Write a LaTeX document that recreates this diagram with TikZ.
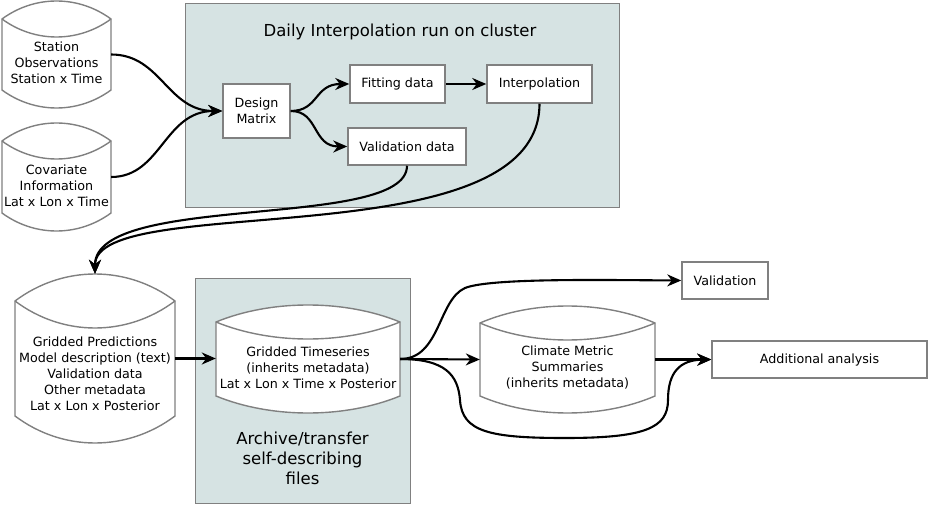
\documentclass[tikz,border=0pt]{standalone}
\usepackage{fontspec}
\setmainfont{DejaVu Sans}
\usetikzlibrary{arrows.meta,calc}
\definecolor{boxfill}{RGB}{214,227,227}
\definecolor{edgegray}{RGB}{128,128,128}
\tikzset{
  proc/.style={draw=edgegray,line width=1.5pt,fill=white,inner sep=0pt,align=center,font=\fontsize{12.7}{16}\selectfont},
  tapeline/.style={draw=edgegray,line width=1.4pt,fill=white},
  tapetext/.style={align=center,inner sep=0pt,font=\fontsize{12.7}{16}\selectfont},
  groupbox/.style={draw=edgegray,line width=0.8pt,fill=boxfill,inner sep=0pt},
  grouptext/.style={align=center,inner sep=0pt,font=\fontsize{16.5}{20}\selectfont},
  conn/.style={line width=2.1pt,-{Stealth[length=14pt,width=12pt,inset=4.5pt]}},
}
% #1 name, #2 left, #3 right, #4 top peak, #5 bottom corner, #6 bulge
\newcommand\tapeshape[6]{%
  \filldraw[tapeline] ({#2},{#4+#6}) .. controls ({#2+0.3*(#3-#2)},{#4-#6/3}) and ({#3-0.3*(#3-#2)},{#4-#6/3}) .. ({#3},{#4+#6})
     -- ({#3},{#5}) .. controls ({#3-0.3*(#3-#2)},{#5+4*#6/3}) and ({#2+0.3*(#3-#2)},{#5+4*#6/3}) .. ({#2},{#5}) -- cycle;
  \draw[tapeline,fill=none] ({#2},{#4+#6}) .. controls ({#2+0.3*(#3-#2)},{#4+#6+4*#6/3}) and ({#3-0.3*(#3-#2)},{#4+#6+4*#6/3}) .. ({#3},{#4+#6});
  \node[inner sep=0pt,minimum width={(#3-#2)*1pt},minimum height={(#5+#6-#4)*1pt}] (#1) at ({(#2+#3)/2},{(#4+#5+#6)/2}) {};
}
\begin{document}
\begin{tikzpicture}[x=1pt,y=-1pt]
\useasboundingbox (0,0) rectangle (929,505);
% group boxes
\node[groupbox,minimum width=434pt,minimum height=204pt] (g1) at (402,105) {};
\node[groupbox,minimum width=215pt,minimum height=225pt] (g2) at (302.5,390.5) {};
\node[grouptext] (t1) at (400,32) {Daily Interpolation run on cluster};
\node[grouptext] (t2) at (302.5,458) {Archive/transfer\\self-describing\\files};
% data stores
\tapeshape{so}{2}{111}{1}{90}{18}
\node[tapetext] (sot) at (56.5,63) {Station\\Observations\\Station x Time};
\tapeshape{cv}{2}{111}{123}{213}{18}
\node[tapetext] (cvt) at (56.5,186) {Covariate\\Information\\Lat x Lon x Time};
\tapeshape{gp}{15}{175}{274}{416}{27}
\node[tapetext] (gpt) at (95,374) {Gridded Predictions\\Model description (text)\\Validation data\\Other metadata\\Lat x Lon x Posterior};
\tapeshape{gt}{216}{400}{305}{396}{17}
\node[tapetext] (gtt) at (308,368) {Gridded Timeseries\\(inherits metadata)\\Lat x Lon x Time x Posterior};
\tapeshape{cm}{480}{655}{306}{396}{17}
\node[tapetext] (cmt) at (567.5,368) {Climate Metric\\Summaries\\(inherits metadata)};
% process boxes
\node[proc,minimum width=67pt,minimum height=54pt] (dm) at (256.5,111) {Design\\Matrix};
\node[proc,minimum width=95pt,minimum height=38pt] (fit) at (397.5,84) {Fitting data};
\node[proc,minimum width=105pt,minimum height=38pt] (ip) at (539.5,84) {Interpolation};
\node[proc,minimum width=118pt,minimum height=37pt] (vd) at (407,146.5) {Validation data};
\node[proc,minimum width=86pt,minimum height=37pt] (val) at (725,280.5) {Validation};
\node[proc,minimum width=215pt,minimum height=37pt] (aa) at (819.5,359.5) {Additional analysis};
% connectors
\draw[conn] (so.east) .. controls +(50,0) and +(-55,0) .. (dm.west);
\draw[conn] (cv.east) .. controls +(50,0) and +(-58,0) .. (dm.west);
\draw[conn] (dm.east) .. controls +(28,0) and +(-35,0) .. (fit.west);
\draw[conn] (dm.east) .. controls +(28,0) and +(-35,0) .. (vd.west);
\draw[conn] (fit.east) -- (ip.west);
\draw[conn] (vd.south) .. controls +(0,65) and +(0,-82) .. (gp.north);
\draw[conn] (ip.south) .. controls +(0,157) and +(0,-84) .. (gp.north);
\draw[conn] (gp.east) -- (gp.east -| gt.west);
\draw[conn] (gt.east) -- (cm.west);
\draw[conn] (gt.east) .. controls +(40,0) and (438,300) .. (465,288) .. controls (490,278) and (600,280) .. (val.west);
\draw[conn] (gt.east) .. controls +(45,0) and (458,375) .. (460,400) .. controls (462,432) and (490,438) .. (565,438) .. controls (645,438) and (668,428) .. (668,400) .. controls (668,372) and (680,360) .. (aa.west);
\draw[conn] (cm.east) -- (cm.east -| aa.west);
\end{tikzpicture}
\end{document}
